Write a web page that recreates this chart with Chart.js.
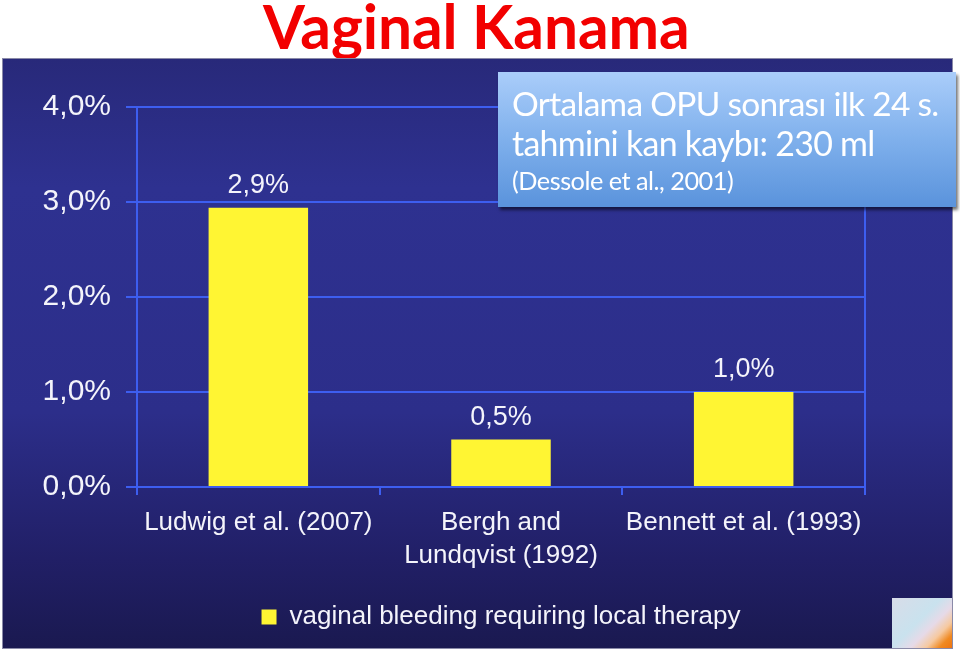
<!DOCTYPE html>
<html>
<head>
<meta charset="utf-8">
<title>Vaginal Kanama</title>
<script src="https://cdn.jsdelivr.net/npm/chart.js@4"></script>
<style>
  html, body { margin: 0; padding: 0; background: #fff; }
  body { width: 960px; height: 654px; position: relative; overflow: hidden; font-family: "Liberation Sans", Arial, sans-serif; }
  .fit { position: absolute; white-space: nowrap; }
  #title { left: 263px; top: 0px; height: 52px; line-height: 52px; color: #f20000; font-family: Lato, "Open Sans", sans-serif; font-weight: bold; }
  #panel {
    position: absolute; left: 2px; top: 58px; width: 951px; height: 591px; box-sizing: border-box;
    border: 1px solid #8a8aa8;
    background: linear-gradient(to bottom, #28297a 0%, #2e3190 22%, #2c2e8a 60%, #211f66 85%, #1a1950 100%);
  }
  #chart { position: absolute; left: 0; top: 0; }
  #callout {
    position: absolute; left: 498px; top: 72px; width: 458px; height: 135px;
    background: linear-gradient(to bottom, #aacdfa 0%, #7fb0ec 50%, #5a93dc 100%);
    box-shadow: 2px 3px 3px rgba(0,0,0,0.55);
  }
  .cl { color: #fff; font-family: Lato, "Open Sans", sans-serif; }
  #thumb {
    position: absolute; left: 892px; top: 598px; width: 60px; height: 50px;
    background: linear-gradient(135deg, #d8dce8 0%, #c9e2ee 45%, #e6dae8 62%, #f6c9a0 76%, #f08a22 88%, #ee7410 100%);
  }
</style>
</head>
<body>
<div id="title" class="fit" data-w="427" data-k="1.0">Vaginal Kanama</div>
<div id="panel"><canvas id="chart" width="949" height="589"></canvas></div>
<div id="callout"></div>
<div class="fit cl" data-w="426" data-k="1.05" style="left:512px; top:83px; height:40px; line-height:40px;">Ortalama OPU sonrası ilk 24 s.</div>
<div class="fit cl" data-w="363" data-k="1.05" style="left:512px; top:123px; height:40px; line-height:40px;">tahmini kan kaybı: 230 ml</div>
<div class="fit cl" data-w="221" data-k="1.05" style="left:512px; top:165px; height:30px; line-height:30px;">(Dessole et al., 2001)</div>
<div id="thumb"></div>

<script>
// Veriler
const studies = [["Ludwig et al. (2007)"], ["Bergh and", "Lundqvist (1992)"], ["Bennett et al. (1993)"]];
const bleedingPct = [2.94, 0.5, 1.0];
const seriesName = "vaginal bleeding requiring local therapy";
const yTicks = [0, 1, 2, 3, 4];

const GRID = "#3d5ef0";
const WHITE = "#f4f4fb";
const FONT = "'Liberation Sans', Arial, sans-serif";
const pct = v => v.toFixed(1).replace(".", ",") + "%";

// Ajusta a fonte à largura do original; o espaçamento corrige o resto
document.querySelectorAll(".fit").forEach(el => {
  const target = +el.dataset.w;
  el.style.fontSize = "30px";
  const size = 30 * target / el.scrollWidth * (+el.dataset.k);
  el.style.fontSize = size.toFixed(2) + "px";
  const extra = target - el.scrollWidth;
  el.style.letterSpacing = (extra / el.textContent.length).toFixed(2) + "px";
});

// Rótulos de valor acima das barras
const valueLabels = {
  id: "valueLabels",
  afterDatasetsDraw(chart) {
    const ctx = chart.ctx;
    const meta = chart.getDatasetMeta(0);
    ctx.save();
    ctx.font = "27px " + FONT;
    ctx.fillStyle = WHITE;
    ctx.textAlign = "center";
    ctx.textBaseline = "alphabetic";
    meta.data.forEach((bar, i) => {
      ctx.fillText(pct(bleedingPct[i]), bar.x, bar.y - 15);
    });
    ctx.restore();
  }
};

new Chart(document.getElementById("chart"), {
  type: "bar",
  data: {
    labels: studies,
    datasets: [{
      label: seriesName,
      data: bleedingPct,
      backgroundColor: "#fff533",
      borderWidth: 0,
      categoryPercentage: 1,
      barPercentage: 0.41
    }]
  },
  options: {
    responsive: false,
    animation: false,
    layout: { padding: { left: 0, right: 0, top: 48, bottom: 8 } },
    plugins: {
      legend: {
        position: "bottom",
        fullSize: false, // centraliza sob a área do gráfico
        labels: {
          color: WHITE,
          font: { size: 26, family: FONT },
          boxWidth: 15,
          boxHeight: 15,
          padding: 10
        }
      },
      tooltip: { enabled: false }
    },
    scales: {
      x: {
        offset: true,
        grid: { display: true, drawOnChartArea: false, color: GRID, lineWidth: 2, tickLength: 8 },
        border: { display: true, color: GRID, width: 2 },
        ticks: {
          color: WHITE,
          padding: 12,
          font: { size: 26, family: FONT, lineHeight: 1.25 }
        },
        afterFit: s => { s.height = 107; }
      },
      y: {
        min: 0,
        max: 4,
        afterBuildTicks: s => { s.ticks = yTicks.map(v => ({ value: v })); },
        grid: { color: GRID, lineWidth: 2, tickLength: 11 },
        border: { display: true, color: GRID, width: 2 },
        ticks: {
          color: WHITE,
          padding: 15,
          font: { size: 30, family: FONT },
          callback: v => pct(v)
        },
        afterFit: s => { s.width = 134; }
      },
      y2: {
        position: "right",
        min: 0,
        max: 4,
        grid: { display: false },
        ticks: { display: false },
        border: { display: true, color: GRID, width: 2 },
        afterFit: s => { s.width = 87; }
      }
    }
  },
  plugins: [valueLabels]
});
</script>
</body>
</html>
